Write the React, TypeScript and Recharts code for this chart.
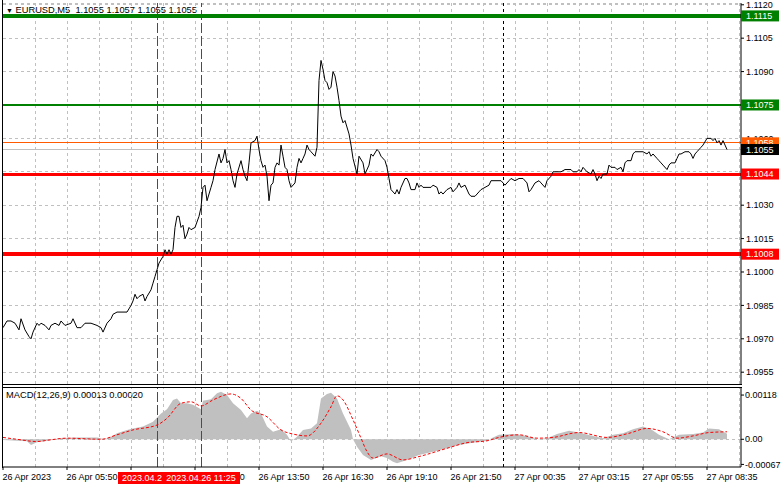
import React from 'react';
import {
  ComposedChart,
  Line,
  Area,
  XAxis,
  YAxis,
  CartesianGrid,
  ReferenceLine,
} from 'recharts';

// EURUSD M5 closes, by bar index (5-minute bars from 26 Apr 03:10)
const priceBar = [
  0, 2, 4, 6, 8, 9, 11, 13, 14, 15, 17, 18, 19, 21, 23, 24, 26, 28, 29, 31, 34, 35, 37, 39, 41, 44, 47, 49, 50, 52,
  54, 55, 57, 59, 62, 64, 65, 66, 67, 68, 70, 71, 72, 74, 75, 76, 77, 78, 80, 81, 82, 83, 84, 85, 86, 87, 88, 89, 90,
  91, 92, 93, 94, 96, 98, 99, 100, 101, 102, 104, 105, 106, 108, 109, 110, 111, 112, 113, 114, 115, 116, 117, 119,
  120, 121, 122, 123, 124, 126, 127, 128, 129, 130, 131, 132, 133, 134, 135, 136, 137, 138, 139, 140, 141, 142, 143,
  144, 146, 147, 148, 149, 150, 151, 152, 153, 154, 155, 156, 157, 158, 159, 160, 161, 162, 163, 164, 165, 166, 167,
  168, 169, 170, 171, 173, 174, 175, 177, 178, 180, 181, 183, 184, 185, 187, 188, 189, 191, 192, 193, 194, 196, 197,
  198, 199, 201, 202, 203, 204, 206, 207, 208, 209, 210, 212, 214, 215, 217, 218, 219, 220, 222, 224, 225, 227, 228,
  229, 231, 233, 234, 236, 238, 239, 241, 243, 244, 246, 248, 249, 251, 253, 254, 256, 258, 260, 262, 263, 264, 266,
  268, 269, 271, 272, 274, 275, 279, 281, 284, 285, 287, 288, 289, 290, 292, 294, 295, 296, 297, 298, 299, 300, 302,
  303, 304, 306, 307, 309, 310, 311, 312, 314, 315, 316, 318, 320, 322, 323, 324, 325, 327, 328, 329, 330, 332, 333,
  334, 336, 337, 338, 339, 341, 343, 344, 345, 346, 347, 348, 349, 350, 352, 354, 355, 356, 357, 358, 359, 360, 361,
  362,
];
const priceClose = [
  1.0975, 1.0978, 1.0978, 1.0977, 1.0974, 1.0979, 1.0974, 1.0971, 1.097, 1.0973, 1.0977, 1.0976, 1.0977, 1.0976,
  1.0974, 1.0976, 1.0977, 1.0976, 1.0978, 1.0976, 1.0977, 1.0979, 1.0975, 1.0975, 1.0977, 1.0977, 1.0976, 1.0975,
  1.0973, 1.0977, 1.0979, 1.0981, 1.0982, 1.0982, 1.0982, 1.0985, 1.0987, 1.099, 1.0988, 1.0989, 1.099, 1.0987,
  1.0989, 1.0992, 1.0995, 1.0998, 1.1001, 1.1004, 1.1007, 1.101, 1.1008, 1.101, 1.1008, 1.101, 1.102, 1.1025, 1.1025,
  1.102, 1.1021, 1.1015, 1.1017, 1.102, 1.1019, 1.102, 1.1025, 1.1029, 1.1038, 1.1039, 1.1032, 1.1038, 1.1041,
  1.1046, 1.1053, 1.1049, 1.1051, 1.1055, 1.1049, 1.105, 1.1046, 1.1041, 1.1038, 1.1044, 1.105, 1.1046, 1.1043,
  1.1041, 1.1049, 1.1058, 1.1059, 1.1061, 1.1055, 1.105, 1.1047, 1.1048, 1.1043, 1.1032, 1.1039, 1.104, 1.1047,
  1.1049, 1.1048, 1.1057, 1.1052, 1.1047, 1.1046, 1.1041, 1.1038, 1.104, 1.1047, 1.1051, 1.1049, 1.1051, 1.1053,
  1.1057, 1.1055, 1.1054, 1.1053, 1.1052, 1.1056, 1.1086, 1.1095, 1.1091, 1.1086, 1.1085, 1.1082, 1.1083, 1.109,
  1.1088, 1.1083, 1.1077, 1.107, 1.1067, 1.1068, 1.1062, 1.1057, 1.1051, 1.1044, 1.1052, 1.1049, 1.1044, 1.1048,
  1.1053, 1.1052, 1.1055, 1.1054, 1.1052, 1.105, 1.1047, 1.1042, 1.1037, 1.1035, 1.1037, 1.1035, 1.1038, 1.1042,
  1.1042, 1.104, 1.1037, 1.1037, 1.104, 1.1038, 1.1039, 1.1038, 1.1038, 1.1038, 1.1039, 1.1038, 1.1035, 1.1036,
  1.1035, 1.1037, 1.1038, 1.1036, 1.1038, 1.104, 1.1038, 1.1039, 1.1035, 1.1034, 1.1034, 1.1036, 1.1037, 1.1038,
  1.1039, 1.1041, 1.1041, 1.1041, 1.1041, 1.1039, 1.1041, 1.1042, 1.1041, 1.1042, 1.1042, 1.104, 1.1036, 1.1037,
  1.104, 1.1041, 1.104, 1.1038, 1.1041, 1.1043, 1.1045, 1.1045, 1.1046, 1.1046, 1.1045, 1.1045, 1.1046, 1.1045,
  1.1047, 1.1045, 1.1044, 1.1046, 1.1044, 1.1041, 1.1043, 1.1042, 1.1044, 1.1044, 1.1048, 1.1047, 1.1047, 1.1046,
  1.1047, 1.1045, 1.1049, 1.105, 1.105, 1.1053, 1.1054, 1.1054, 1.1054, 1.1053, 1.1054, 1.1052, 1.1053, 1.1051,
  1.105, 1.1049, 1.1048, 1.1046, 1.1048, 1.1049, 1.1049, 1.1051, 1.1053, 1.1053, 1.1054, 1.1054, 1.1053, 1.1051,
  1.1053, 1.1054, 1.1055, 1.1056, 1.1057, 1.106, 1.106, 1.1059, 1.106, 1.1058, 1.1059, 1.1057, 1.1059, 1.1057,
  1.1055,
];

// MACD(12,26,9) histogram and signal, in units of 0.00001
const histBar = [
  0, 12, 14, 17, 23, 28, 37, 47, 51, 54, 57, 62, 65, 70, 75, 79, 82, 85, 87, 89, 92, 95, 99, 100, 104, 107, 109, 112,
  115, 119, 122, 124, 127, 129, 132, 135, 139, 142, 144, 147, 150, 154, 157, 159, 162, 164, 167, 170, 174, 175, 177,
  180, 184, 189, 192, 195, 197, 202, 208, 215, 222, 228, 235, 242, 245, 248, 255, 262, 267, 272, 277, 283, 288, 295,
  300, 305, 310, 315, 320, 324, 328, 333, 338, 345, 350, 353, 358, 362,
];
const histVal = [
  -2, -5, -15, -8, -3, 3, 5, 5, 0, 7, 16, 25, 29, 34, 47, 69, 80, 105, 109, 96, 96, 92, 80, 103, 107, 123, 127, 118,
  96, 78, 56, 69, 76, 69, 34, 20, 27, 12, -6, 7, 25, 29, 43, 109, 121, 124, 109, 69, 25, 0, -20, -42, -55, -45, -50,
  -60, -64, -55, -42, -33, -24, -15, -9, -4, 5, 12, 14, 9, 0, 3, 14, 23, 18, 9, 3, 12, 16, 27, 34, 27, 12, 0, 12, 14,
  18, 29, 27, 15,
];
const sigBar = [
  0, 7, 17, 23, 32, 49, 57, 65, 77, 82, 89, 94, 99, 105, 114, 119, 124, 132, 139, 145, 152, 159, 164, 167, 170, 175,
  179, 182, 185, 192, 200, 208, 222, 232, 242, 248, 258, 267, 275, 288, 302, 313, 322, 330, 337, 345, 353, 362,
];
const sigVal = [
  5, 0, -6, -2, 3, 0, 12, 25, 38, 56, 96, 100, 89, 105, 121, 109, 78, 60, 25, 14, 9, 43, 87, 116, 105, 52, 3, -33,
  -50, -39, -55, -46, -24, -9, -4, 5, 12, 3, 5, 18, 5, 16, 29, 20, 3, 9, 18, 20,
];

const timeTickBars = [0, 32, 64, 96, 128, 160, 192, 224, 256, 288, 320, 352];
const timeLabels = [
  '26 Apr 2023', '26 Apr 05:50', '26 Apr 08:30', '26 Apr 11:10', '26 Apr 13:50', '26 Apr 16:30',
  '26 Apr 19:10', '26 Apr 21:50', '27 Apr 00:35', '27 Apr 03:15', '27 Apr 05:55', '27 Apr 08:35',
];
const gridBars = [16, 32, 48, 64, 80, 96, 112, 128, 144, 160, 176, 192, 208, 224, 240, 256, 272, 288, 304, 320, 336, 352, 368];

const priceTicks = [1.112, 1.1105, 1.109, 1.1075, 1.106, 1.1045, 1.103, 1.1015, 1.1, 1.0985, 1.097, 1.0955];
const macdTicks = [0.00118, 0, -0.00067];

const levelPrices = [1.1115, 1.1075, 1.1058, 1.1044, 1.1008];
const lastPrice = 1.1055;
const eventBars = [77, 99];
const eventLabels = ['2023.04.26 09:35', '2023.04.26 11:25'];
const separatorBar = 250;

const FONT = '"Liberation Sans", Arial, sans-serif';
const GRID = '#c0c0c0';
const EVENT_RED = '#ff0000';
const X_DOMAIN: [number, number] = [0, 369];
const PRICE_DOMAIN: [number, number] = [1.09497, 1.11208];
const MACD_DOMAIN: [number, number] = [-0.000739, 0.0013947];
const levelStyle = [
  { color: '#008000', width: 4 },
  { color: '#008000', width: 2.5 },
  { color: '#ff5a00', width: 1 },
  { color: '#ff0000', width: 3 },
  { color: '#ff0000', width: 4 },
];

const priceData = priceBar.map((b, i) => ({ bar: b, close: priceClose[i] }));
const histData = histBar.map((b, i) => ({ bar: b, hist: histVal[i] / 100000 }));
const sigData = sigBar.map((b, i) => ({ bar: b, signal: sigVal[i] / 100000 }));

function LevelTag(props: any) {
  const { viewBox, text, bg } = props;
  if (!viewBox) return null;
  const x = viewBox.x + viewBox.width;
  const y = viewBox.y;
  return (
    <g>
      <rect x={x} y={y - 5.5} width={38} height={11} fill={bg} />
      <text x={x + 5} y={y} dy="0.36em" fill="#fff" fontSize={9} fontFamily={FONT}>
        {text}
      </text>
    </g>
  );
}

function EventTag(props: any) {
  const { viewBox, text } = props;
  if (!viewBox) return null;
  const cx = viewBox.x;
  const top = viewBox.y + viewBox.height + 5;
  return (
    <g>
      <rect x={cx - 39} y={top} width={78} height={12} fill={EVENT_RED} />
      <text x={cx} y={top + 6} dy="0.36em" textAnchor="middle" fill="#fff" fontSize={9} fontFamily={FONT}>
        {text}
      </text>
    </g>
  );
}

function TimeTick(props: any) {
  const { x, y, payload } = props;
  const idx = timeTickBars.indexOf(payload.value);
  return (
    <text x={x - 0.5} y={y} dy="0.71em" textAnchor="start" fill="#000" fontSize={9} fontFamily={FONT}>
      {timeLabels[idx]}
    </text>
  );
}

const layer: React.CSSProperties = { position: 'absolute', left: 0 };
const crisp = { shapeRendering: 'crispEdges' } as any;

export default function App() {
  const axisTick = { fill: '#000', fontSize: 9, fontFamily: FONT };
  return (
    <div style={{ position: 'absolute', left: 0, top: 0, width: 781, height: 489, background: '#fff', overflow: 'hidden' }}>
      <div style={{ position: 'absolute', left: 6, top: 5, fontFamily: FONT, fontSize: 9.3, lineHeight: '11px', whiteSpace: 'pre' }}>
        <span style={{ fontSize: 7 }}>▼</span> EURUSD,M5  1.1055 1.1057 1.1055 1.1055
      </div>
      <div style={{ position: 'absolute', left: 6, top: 390, fontFamily: FONT, fontSize: 9.3, lineHeight: '11px', whiteSpace: 'pre' }}>
        MACD(12,26,9) 0.00013 0.00020
      </div>

      {/* price panel */}
      <div style={{ ...layer, top: 0 }}>
        <ComposedChart width={781} height={384} data={priceData} margin={{ top: 3, right: 0, bottom: 0, left: 3 }}>
          <XAxis type="number" dataKey="bar" domain={X_DOMAIN} hide allowDataOverflow />
          <YAxis
            orientation="right"
            type="number"
            domain={PRICE_DOMAIN}
            ticks={priceTicks}
            interval={0}
            width={40}
            tickSize={3}
            tickMargin={2}
            allowDataOverflow
            axisLine={{ stroke: '#000' }}
            tickLine={{ stroke: '#000' }}
            tick={axisTick}
            tickFormatter={(v: number) => v.toFixed(4)}
          />
          <CartesianGrid vertical={false} stroke={GRID} strokeDasharray="3 3" {...crisp} />
          {gridBars.map((b) => (
            <ReferenceLine key={b} x={b} stroke={GRID} strokeDasharray="3 3" {...crisp} />
          ))}
          <ReferenceLine x={separatorBar} stroke="#000" strokeDasharray="3 3" {...crisp} />
          {eventBars.map((b) => (
            <ReferenceLine key={b} x={b} stroke={EVENT_RED} strokeDasharray="10 3" {...crisp} />
          ))}
          {levelPrices.map((p, i) => (
            <ReferenceLine key={p} y={p} stroke={levelStyle[i].color} strokeWidth={levelStyle[i].width} {...crisp} />
          ))}
          <ReferenceLine y={lastPrice} stroke={GRID} strokeWidth={1} {...crisp} />
          <Line type="linear" dataKey="close" stroke="#000" strokeWidth={1} dot={false} isAnimationActive={false} />
        </ComposedChart>
      </div>

      {/* price tags drawn above the axis labels */}
      <div style={{ ...layer, top: 0 }}>
        <ComposedChart width={781} height={384} margin={{ top: 3, right: 40, bottom: 0, left: 3 }}>
          <XAxis type="number" dataKey="bar" domain={X_DOMAIN} hide allowDataOverflow />
          <YAxis type="number" domain={PRICE_DOMAIN} hide allowDataOverflow />
          {levelPrices.map((p, i) => (
            <ReferenceLine
              key={p}
              y={p}
              stroke="none"
              label={<LevelTag text={p.toFixed(4)} bg={levelStyle[i].color} />}
            />
          ))}
          <ReferenceLine y={lastPrice} stroke="none" label={<LevelTag text={lastPrice.toFixed(4)} bg="#000" />} />
        </ComposedChart>
      </div>

      {/* MACD panel */}
      <div style={{ ...layer, top: 384 }}>
        <ComposedChart width={781} height={105} margin={{ top: 3, right: 0, bottom: 0, left: 3 }}>
          <XAxis
            type="number"
            dataKey="bar"
            domain={X_DOMAIN}
            ticks={timeTickBars}
            interval={0}
            height={22}
            tickSize={3}
            tickMargin={4}
            allowDataOverflow
            axisLine={{ stroke: '#000' }}
            tickLine={{ stroke: '#000' }}
            tick={<TimeTick />}
          />
          <YAxis
            orientation="right"
            type="number"
            domain={MACD_DOMAIN}
            ticks={macdTicks}
            interval={0}
            width={40}
            tickSize={3}
            tickMargin={1}
            allowDataOverflow
            axisLine={{ stroke: '#000' }}
            tickLine={{ stroke: '#000' }}
            tick={axisTick}
            tickFormatter={(v: number) => (v === 0 ? '0.00' : v.toFixed(5))}
          />
          {gridBars.map((b) => (
            <ReferenceLine key={b} x={b} stroke={GRID} strokeDasharray="3 3" {...crisp} />
          ))}
          <ReferenceLine y={0} stroke={GRID} strokeDasharray="3 3" {...crisp} />
          <Area
            data={histData}
            type="linear"
            dataKey="hist"
            baseValue={0}
            stroke="none"
            fill="#c0c0c0"
            fillOpacity={1}
            isAnimationActive={false}
          />
          <Line
            data={sigData}
            type="monotone"
            dataKey="signal"
            stroke="#ff0000"
            strokeWidth={1}
            strokeDasharray="3 2"
            dot={false}
            isAnimationActive={false}
          />
          <ReferenceLine x={separatorBar} stroke="#000" strokeDasharray="3 3" {...crisp} />
          {eventBars.map((b) => (
            <ReferenceLine key={b} x={b} stroke={EVENT_RED} strokeDasharray="10 3" {...crisp} />
          ))}
        </ComposedChart>
      </div>

      {/* event time tags drawn above the time labels */}
      <div style={{ ...layer, top: 384 }}>
        <ComposedChart width={781} height={105} margin={{ top: 3, right: 40, bottom: 22, left: 3 }}>
          <XAxis type="number" dataKey="bar" domain={X_DOMAIN} hide allowDataOverflow />
          <YAxis type="number" domain={MACD_DOMAIN} hide allowDataOverflow />
          {eventBars.map((b, i) => (
            <ReferenceLine key={b} x={b} stroke="none" label={<EventTag text={eventLabels[i]} />} />
          ))}
        </ComposedChart>
      </div>

      <div style={{ position: 'absolute', left: 2, top: 0, width: 1, height: 468, background: '#000' }} />
      <div style={{ position: 'absolute', left: 2, top: 384, width: 740, height: 1, background: '#000' }} />
      <div style={{ position: 'absolute', left: 2, top: 387, width: 740, height: 1, background: '#000' }} />
    </div>
  );
}
